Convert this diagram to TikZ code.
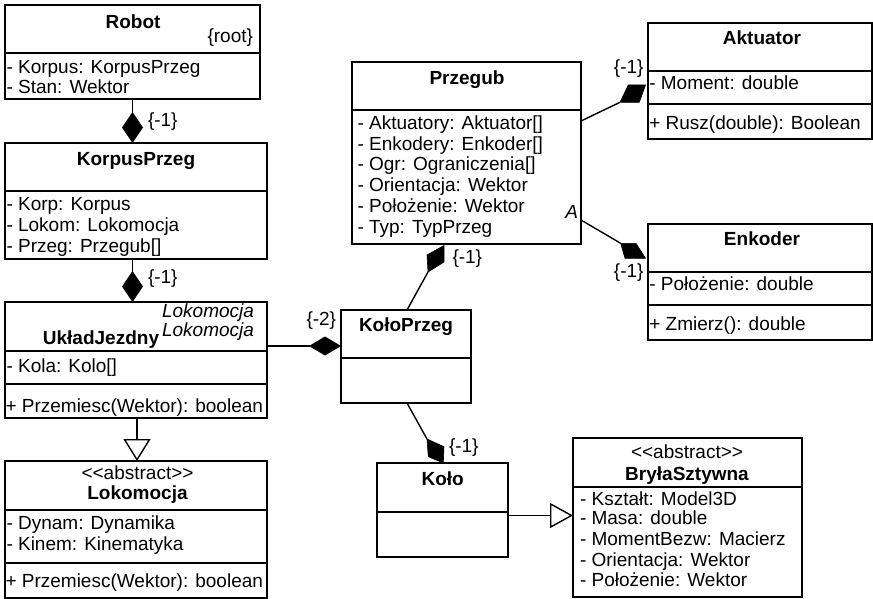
\documentclass[tikz,border=0pt]{standalone}
\usepackage{fontspec}
\setmainfont{Liberation Sans}[Ligatures=TeXOff]
\usetikzlibrary{arrows.meta,calc}
\newcommand\umlfont{\fontsize{19pt}{21pt}\selectfont}

\begin{document}
\begin{tikzpicture}[x=1pt,y=-1pt,
  classbox/.style={draw, line width=1.8pt, inner sep=0pt, outer sep=0pt, anchor=north west},
  divider/.style={line width=1.8pt},
  txt/.style={inner sep=0pt, outer sep=0pt, anchor=base west, font=\umlfont},
  rtxt/.style={inner sep=0pt, outer sep=0pt, anchor=base east, font=\umlfont},
  ctxt/.style={inner sep=0pt, outer sep=0pt, anchor=base, font=\umlfont},
  title/.style={inner sep=0pt, outer sep=0pt, anchor=base, font=\umlfont\bfseries},
  note/.style={inner sep=0pt, outer sep=0pt, anchor=base east, font=\umlfont\itshape},
  link/.style={line width=1.4pt},
  comp/.style={link, -{Diamond[length=31pt,width=21pt]}},
  compH/.style={link, -{Diamond[length=32pt,width=19pt]}},
  genV/.style={link, -{Triangle[open,length=22pt,width=27pt]}},
  genH/.style={link, -{Triangle[open,length=23pt,width=25pt]}},
  diamondfill/.style={fill=black, draw=black, line width=0.6pt, line join=round},
]
\useasboundingbox (0,0) rectangle (873,599);

% ---------- class boxes ----------
\node[classbox, minimum width=255pt, minimum height=94pt]  (robot)   at (5,5)     {};
\node[classbox, minimum width=262pt, minimum height=116pt] (korpus)  at (5,143)   {};
\node[classbox, minimum width=262pt, minimum height=116pt] (uklad)   at (5,302)   {};
\node[classbox, minimum width=262pt, minimum height=137pt] (lokom)   at (5,461)   {};
\node[classbox, minimum width=229pt, minimum height=182pt] (przegub) at (352,62)  {};
\node[classbox, minimum width=224pt, minimum height=116pt] (aktuator) at (648,23) {};
\node[classbox, minimum width=224pt, minimum height=116pt] (enkoder) at (648,224) {};
\node[classbox, minimum width=130pt, minimum height=93pt]  (kp)      at (341,310) {};
\node[classbox, minimum width=131pt, minimum height=94pt]  (kolo)    at (377,463) {};
\node[classbox, minimum width=229pt, minimum height=159pt] (bryla)   at (573,438) {};

% ---------- compartment dividers ----------
\draw[divider] (robot.west |- 0,53)   -- (robot.east |- 0,53);
\draw[divider] (korpus.west |- 0,191) -- (korpus.east |- 0,191);
\draw[divider] (uklad.west |- 0,351)  -- (uklad.east |- 0,351);
\draw[divider] (uklad.west |- 0,384)  -- (uklad.east |- 0,384);
\draw[divider] (lokom.west |- 0,510)  -- (lokom.east |- 0,510);
\draw[divider] (lokom.west |- 0,563)  -- (lokom.east |- 0,563);
\draw[divider] (przegub.west |- 0,110) -- (przegub.east |- 0,110);
\draw[divider] (aktuator.west |- 0,71)  -- (aktuator.east |- 0,71);
\draw[divider] (aktuator.west |- 0,104) -- (aktuator.east |- 0,104);
\draw[divider] (enkoder.west |- 0,272) -- (enkoder.east |- 0,272);
\draw[divider] (enkoder.west |- 0,305) -- (enkoder.east |- 0,305);
\draw[divider] (kp.west |- 0,358)   -- (kp.east |- 0,358);
\draw[divider] (kolo.west |- 0,512) -- (kolo.east |- 0,512);
\draw[divider] (bryla.west |- 0,487) -- (bryla.east |- 0,487);

% ---------- Robot ----------
\node[title] (robot-t) at (133,28.3) {Robot};
\node[rtxt] (robot-s) at (253,42.7) {\{root\}};
\node[txt] (robot-a1) at (6.5,73.3) {- Korpus: KorpusPrzeg};
\node[txt] (robot-a2) at (6.5,93.6) {- Stan: Wektor};

% ---------- KorpusPrzeg ----------
\node[title] (korpus-t) at (136,165) {KorpusPrzeg};
\node[txt] (korpus-a1) at (6.5,210.7) {- Korp: Korpus};
\node[txt] (korpus-a2) at (6.5,231.7) {- Lokom: Lokomocja};
\node[txt] (korpus-a3) at (6.5,252.7) {- Przeg: Przegub[]};

% ---------- UkładJezdny ----------
\node[title] (uklad-t) at (101,344) {UkładJezdny};
\node[note] (uklad-s1) at (254,317.3) {Lokomocja};
\node[note] (uklad-s2) at (254,336.7) {Lokomocja};
\node[txt] (uklad-a1) at (6.5,372.7) {- Kola: Kolo[]};
\node[txt] (uklad-m1) at (5.5,412.7) {+ Przemiesc(Wektor): boolean};

% ---------- Lokomocja ----------
\node[ctxt] (lokom-st) at (137.5,479.3) {<<abstract>>};
\node[title] (lokom-t) at (137.5,499) {Lokomocja};
\node[txt] (lokom-a1) at (6.5,529.3) {- Dynam: Dynamika};
\node[txt] (lokom-a2) at (6.5,550) {- Kinem: Kinematyka};
\node[txt] (lokom-m1) at (5.5,587.7) {+ Przemiesc(Wektor): boolean};

% ---------- Przegub ----------
\node[title] (przegub-t) at (467,84.3) {Przegub};
\node[txt] (przegub-a1) at (357.5,129.3) {- Aktuatory: Aktuator[]};
\node[txt] (przegub-a2) at (357.5,150) {- Enkodery: Enkoder[]};
\node[txt] (przegub-a3) at (357.5,170.6) {- Ogr: Ograniczenia[]};
\node[txt] (przegub-a4) at (357.5,191.2) {- Orientacja: Wektor};
\node[txt] (przegub-a5) at (357.5,212.3) {- Położenie: Wektor};
\node[txt] (przegub-a6) at (357.5,233.3) {- Typ: TypPrzeg};
\node[note] (przegub-s) at (578,218.3) {A};

% ---------- Aktuator ----------
\node[title] (aktuator-t) at (762,44.3) {Aktuator};
\node[txt] (aktuator-a1) at (649.3,89.3) {- Moment: double};
\node[txt] (aktuator-m1) at (649.3,130) {+ Rusz(double): Boolean};

% ---------- Enkoder ----------
\node[title] (enkoder-t) at (762,245) {Enkoder};
\node[txt] (enkoder-a1) at (649.3,290.7) {- Położenie: double};
\node[txt] (enkoder-m1) at (649.3,330.7) {+ Zmierz(): double};

% ---------- KołoPrzeg ----------
\node[title] (kp-t) at (406,331.7) {KołoPrzeg};

% ---------- Koło ----------
\node[title] (kolo-t) at (442.7,485.7) {Koło};

% ---------- BryłaSztywna ----------
\node[ctxt] (bryla-st) at (687,458.3) {<<abstract>>};
\node[title] (bryla-t) at (687,480) {BryłaSztywna};
\node[txt] (bryla-a1) at (580,505.2) {- Kształt: Model3D};
\node[txt] (bryla-a2) at (580,524.8) {- Masa: double};
\node[txt] (bryla-a3) at (580,545.2) {- MomentBezw: Macierz};
\node[txt] (bryla-a4) at (580,566) {- Orientacja: Wektor};
\node[txt] (bryla-a5) at (580,586.2) {- Położenie: Wektor};

% ---------- compositions (vertical / horizontal) ----------
\draw[comp] (robot.south) -- (robot.south |- korpus.north);
\draw[comp] (korpus.south -| robot.south) -- (uklad.north -| robot.south);
\draw[compH] ([yshift=10.5pt]kp.west -| uklad.east) -- ([yshift=10.5pt]kp.west);

% ---------- compositions (slanted) ----------
\coordinate (kp-up)   at (428,272);
\coordinate (kp-down) at (427,439);
\coordinate (akt-end) at (620,102.3);
\coordinate (enk-end) at (620.7,243.3);

\draw[link] ([xshift=1pt]kp.north) -- (kp-up);
\fill[diamondfill] (kp-up) -- (427,255) -- (444,245.5) -- (444,262) -- cycle;

\draw[link] ([xshift=1pt]kp.south) -- (kp-down);
\fill[diamondfill] (kp-down) -- (444,446.7) -- (443.3,463) -- (428.3,456.7) -- cycle;

\draw[link] ([yshift=-59pt]przegub.north east) -- (akt-end);
\fill[diamondfill] (akt-end) -- (628.3,85) -- (645.5,85) -- (639.3,102.3) -- cycle;

\draw[link] ([yshift=24pt]przegub.south east) -- (enk-end);
\fill[diamondfill] (enk-end) -- (636,243.3) -- (645.5,258.3) -- (625,258.3) -- cycle;

% ---------- generalisations ----------
\draw[genV] ([xshift=1pt]uklad.south) -- ([xshift=1pt]lokom.north);
\draw[genH] ([yshift=-5.5pt]kolo.east) -- ([yshift=-5.5pt]kolo.east -| bryla.west);

% ---------- multiplicities ----------
\node[txt] (m-robot)  at (148,126.7)  {\{-1\}};
\node[txt] (m-korpus) at (148,283)    {\{-1\}};
\node[txt] (m-uklad)  at (306.5,325)  {\{-2\}};
\node[txt] (m-przeg)  at (452.5,263.3) {\{-1\}};
\node[txt] (m-kolo)   at (449,452.3)  {\{-1\}};
\node[rtxt] (m-akt)   at (643.5,74)   {\{-1\}};
\node[rtxt] (m-enk)   at (643.5,277.3) {\{-1\}};
\end{tikzpicture}
\end{document}
